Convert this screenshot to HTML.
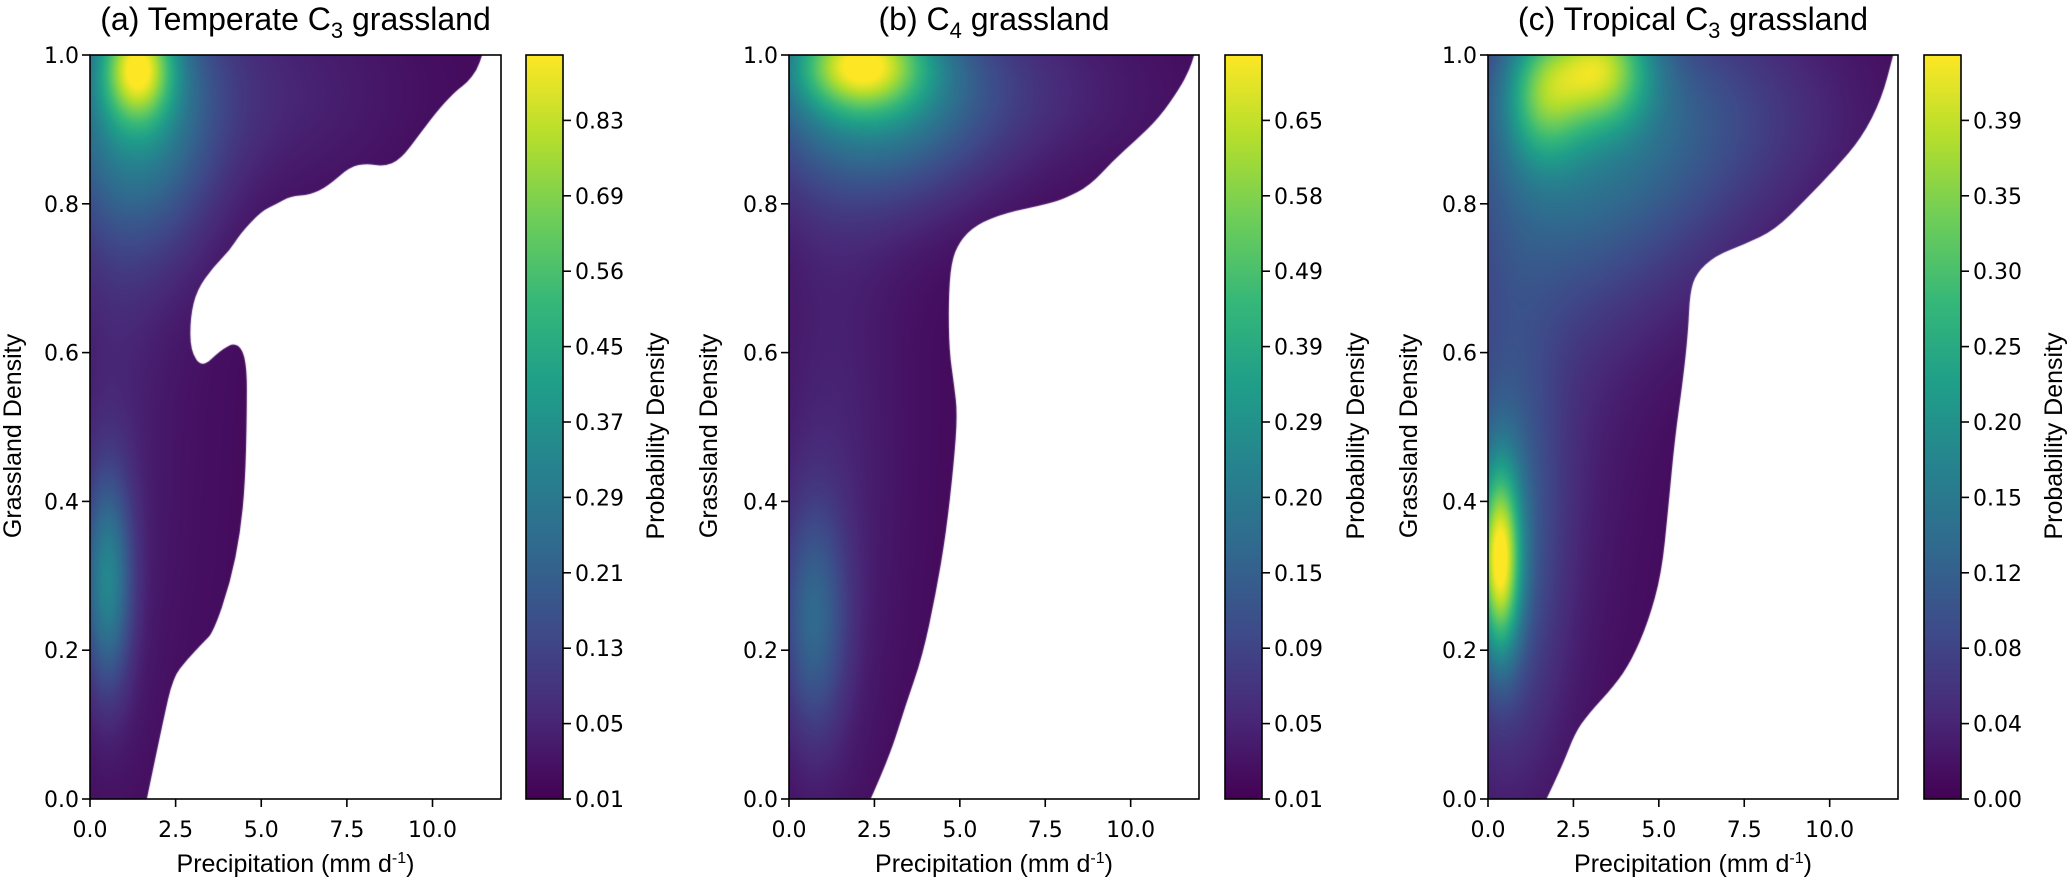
<!DOCTYPE html>
<html><head><meta charset="utf-8">
<style>
html,body{margin:0;padding:0;background:#fff;}
#wrap{position:relative;width:2067px;height:877px;overflow:hidden;}
canvas{position:absolute;}
svg{position:absolute;left:0;top:0;}
.tk{font-family:"DejaVu Sans",sans-serif;font-size:22px;fill:#000;}
.lb{font-family:"Liberation Sans",sans-serif;font-size:25px;fill:#000;}
.tt{font-family:"Liberation Sans",sans-serif;font-size:32px;fill:#000;}
</style></head>
<body>
<div id="wrap">
<canvas id="cva" width="411" height="744" style="left:90px;top:55px"></canvas>
<canvas id="cvb" width="410" height="744" style="left:789px;top:55px"></canvas>
<canvas id="cvc" width="410" height="744" style="left:1488px;top:55px"></canvas>
<svg id="svg" width="2067" height="877"></svg>
</div>
<script>
// ---- data ----
const xTicks = [0, 2.5, 5, 7.5, 10];
const xTickLabels = ["0.0","2.5","5.0","7.5","10.0"];
const yTicks = [0, 0.2, 0.4, 0.6, 0.8, 1.0];
const yTickLabels = ["0.0","0.2","0.4","0.6","0.8","1.0"];
const titles = ["(a) Temperate C|3| grassland","(b) C|4| grassland","(c) Tropical C|3| grassland"];
const cbarLabelsA = ["0.01","0.05","0.13","0.21","0.29","0.37","0.45","0.56","0.69","0.83"];
const cbarLabelsB = ["0.01","0.05","0.09","0.15","0.20","0.29","0.39","0.49","0.58","0.65"];
const cbarLabelsC = ["0.00","0.04","0.08","0.12","0.15","0.20","0.25","0.30","0.35","0.39"];
// boundary of density region (precip, grassland density)
const edgeAX = [0,1.66,2.14,2.43,2.83,3.3,3.6,4.1,4.39,4.53,4.58,4.58,4.29,3.8,3.27,2.93,2.93,3.12,3.6,4.09,4.39,5.0,5.46,5.85,6.43,6.92,7.6,8.09,8.57,9.06,9.65,10.23,10.72,11.0,11.3,11.45,0];
const edgeAY = [0,0,0.106,0.164,0.187,0.21,0.224,0.291,0.358,0.425,0.514,0.59,0.615,0.603,0.579,0.603,0.648,0.684,0.715,0.738,0.76,0.79,0.80,0.81,0.812,0.823,0.85,0.854,0.85,0.859,0.895,0.93,0.953,0.962,0.98,1.0,1.0];
const edgeBX = [0,2.39,2.93,3.42,3.91,4.3,4.59,4.83,4.93,4.83,4.69,4.67,4.74,4.98,5.47,6.35,7.62,8.1,8.79,9.47,10.16,10.84,11.43,11.72,11.86,0];
const edgeBY = [0,0,0.055,0.127,0.192,0.277,0.355,0.453,0.518,0.557,0.603,0.668,0.72,0.749,0.772,0.788,0.8,0.808,0.824,0.857,0.886,0.916,0.955,0.98,1.0,1.0];
const edgeCX = [0,1.71,2.15,2.54,2.93,3.71,4.2,4.69,5.08,5.27,5.47,5.71,5.86,5.91,6.1,6.64,7.52,8.4,9.28,10.16,10.94,11.52,11.86,0];
const edgeCY = [0,0,0.042,0.088,0.114,0.153,0.186,0.238,0.303,0.388,0.485,0.564,0.629,0.681,0.707,0.73,0.746,0.765,0.805,0.847,0.889,0.941,1.0,1.0];
// density components: centre x, centre y, sigma x, sigma y, weight (fraction of colour scale)
const compAcx=[1.4,1.3,5.0,0.5,0.6,1.5]; const compAcy=[0.985,0.93,0.95,0.29,0.45,0.5];
const compAsx=[0.7,1.6,3.0,0.5,1.0,2.0]; const compAsy=[0.05,0.13,0.1,0.1,0.25,0.4];
const compAw=[0.6,0.42,0.08,0.38,0.05,0.03];
const compBcx=[2.1,2.4,6.5,0.7,1.2,1.5]; const compBcy=[0.99,0.95,0.95,0.24,0.4,0.6];
const compBsx=[1.3,2.4,3.2,0.7,1.3,2.0]; const compBsy=[0.045,0.1,0.08,0.11,0.3,0.4];
const compBw=[0.62,0.4,0.08,0.26,0.05,0.03];
const compCcx=[3.3,1.6,3.0,0.35,0.5,1.5,7.0]; const compCcy=[0.985,0.95,0.88,0.32,0.36,0.6,0.92];
const compCsx=[1.0,0.8,3.0,0.42,1.1,2.0,3.0]; const compCsy=[0.055,0.065,0.15,0.085,0.2,0.35,0.1];
const compCw=[0.6,0.42,0.3,0.75,0.25,0.08,0.1];

const viridis=[[68,1,84],[72,40,120],[62,74,137],[49,104,142],[38,130,142],[31,158,137],[53,183,121],[109,205,89],[180,222,44],[253,231,37]];
function cmap(t){t=Math.max(0,Math.min(1,t));const s=t*(viridis.length-1);const i=Math.min(Math.floor(s),viridis.length-2);const f=s-i;const a=viridis[i],b=viridis[i+1];return [a[0]+(b[0]-a[0])*f,a[1]+(b[1]-a[1])*f,a[2]+(b[2]-a[2])*f];}

const XMAX=12.0, AX_TOP=55, AX_BOT=799, AX_H=744;
const panels=[
 {left:90,right:501,cv:'cva',ex:edgeAX,ey:edgeAY,cx:compAcx,cy:compAcy,sx:compAsx,sy:compAsy,w:compAw,cbL:526,cbR:563,cbl:cbarLabelsA,ylx:12,cblx:655,key:'a'},
 {left:789,right:1199,cv:'cvb',ex:edgeBX,ey:edgeBY,cx:compBcx,cy:compBcy,sx:compBsx,sy:compBsy,w:compBw,cbL:1225,cbR:1262,cbl:cbarLabelsB,ylx:708,cblx:1355,key:'b'},
 {left:1488,right:1898,cv:'cvc',ex:edgeCX,ey:edgeCY,cx:compCcx,cy:compCcy,sx:compCsx,sy:compCsy,w:compCw,cbL:1924,cbR:1961,cbl:cbarLabelsC,ylx:1408,cblx:2053,key:'c'}
];
const NS='http://www.w3.org/2000/svg';
const svg=document.getElementById('svg');
function el(tag,attrs,parent,txt){const e=document.createElementNS(NS,tag);for(const k in attrs)e.setAttribute(k,attrs[k]);if(txt!==undefined)e.textContent=txt;(parent||svg).appendChild(e);return e;}

const defs=el('defs',{});
const grad=el('linearGradient',{id:'vir',x1:'0',y1:'1',x2:'0',y2:'0'},defs);
viridis.forEach((c,i)=>{el('stop',{offset:(i/(viridis.length-1)).toFixed(3),'stop-color':'rgb('+c.join(',')+')'},grad);});

panels.forEach(p=>{
  const W=p.right-p.left;
  const xs=v=>v/XMAX*W;
  const ys=v=>AX_H-v*AX_H;
  const X=v=>p.left+v/XMAX*W;
  const Y=v=>AX_BOT-v*AX_H;
  const cv=document.getElementById(p.cv);const ctx=cv.getContext('2d');
  const img=ctx.createImageData(W,AX_H);
  for(let j=0;j<AX_H;j++){const yv=1-(j+0.5)/AX_H;
    for(let i=0;i<W;i++){const xv=(i+0.5)/W*XMAX;let d=0.02;
      for(let k=0;k<p.w.length;k++){const dx=(xv-p.cx[k])/p.sx[k],dy=(yv-p.cy[k])/p.sy[k];d+=p.w[k]*Math.exp(-0.5*(dx*dx+dy*dy));}
      const c=cmap(d);const o=(j*W+i)*4;img.data[o]=c[0];img.data[o+1]=c[1];img.data[o+2]=c[2];img.data[o+3]=255;}}
  const off=document.createElement('canvas');off.width=W;off.height=AX_H;off.getContext('2d').putImageData(img,0,0);
  const P=p.ex.map((v,i)=>[xs(v),ys(p.ey[i])]);const n=P.length;
  ctx.save();ctx.beginPath();
  ctx.moveTo(P[0][0],P[0][1]);ctx.lineTo(P[1][0],P[1][1]);
  for(let i=2;i<=n-3;i++){const mx=(P[i][0]+P[i+1][0])/2,my=(P[i][1]+P[i+1][1])/2;ctx.quadraticCurveTo(P[i][0],P[i][1],mx,my);}
  ctx.lineTo(P[n-2][0],P[n-2][1]);ctx.lineTo(P[n-1][0],P[n-1][1]);
  ctx.closePath();ctx.clip();ctx.drawImage(off,0,0);ctx.restore();

  const fr=el('rect',{x:p.left,y:AX_TOP,width:W,height:AX_H,fill:'none',stroke:'#000','stroke-width':1.6});
  
  
  xTicks.forEach((t,i)=>{
    const ln=el('line',{x1:X(t),x2:X(t),y1:AX_BOT,y2:AX_BOT+8,stroke:'#000','stroke-width':1.6});
    
    
    const tx=el('text',{x:X(t),y:837,'text-anchor':'middle',class:'tk'},svg,xTickLabels[i]);
    
    
  });
  yTicks.forEach((t,i)=>{
    const ln=el('line',{x1:p.left-8,x2:p.left,y1:Y(t),y2:Y(t),stroke:'#000','stroke-width':1.6});
    
    
    const tx=el('text',{x:p.left-11,y:Y(t)+8,'text-anchor':'end',class:'tk'},svg,yTickLabels[i]);
    
    
  });
  const xl=el('text',{x:(p.left+p.right)/2,y:872,'text-anchor':'middle',class:'lb'});
  
  
  el('tspan',{},xl,'Precipitation (mm d');
  el('tspan',{dy:-9,'font-size':'16px'},xl,'-1');
  el('tspan',{dy:9},xl,')');
  const yl=el('text',{x:p.ylx,y:427,'text-anchor':'middle',class:'lb',transform:'rotate(-90 '+(p.ylx+9)+' 427)','font-size':'22px'},svg,'Grassland Density');
  
  
  const parts=titles[panels.indexOf(p)].split('|');
  const tt=el('text',{x:(p.left+p.right)/2,y:30,'text-anchor':'middle',class:'tt'});
  
  
  el('tspan',{},tt,parts[0]);
  el('tspan',{dy:8,'font-size':'22px'},tt,parts[1]);
  el('tspan',{dy:-8},tt,parts[2]);
  const cb=el('rect',{x:p.cbL,y:AX_TOP,width:p.cbR-p.cbL,height:AX_H,fill:'url(#vir)',stroke:'#000','stroke-width':1.6});
  
  
  const step=75.4;
  p.cbl.forEach((lab,i)=>{const yy=AX_BOT-i*step;
    const ln=el('line',{x1:p.cbR,x2:p.cbR+8,y1:yy,y2:yy,stroke:'#000','stroke-width':1.6});
    
    
    const tx=el('text',{x:p.cbR+12,y:yy+8,class:'tk'},svg,lab);
    
    
  });
  const cl=el('text',{x:p.cblx,y:427,'text-anchor':'middle',class:'lb','font-size':'22px',transform:'rotate(-90 '+(p.cblx+9)+' 427)'},svg,'Probability Density');
  
  
});
</script>
</body></html>
